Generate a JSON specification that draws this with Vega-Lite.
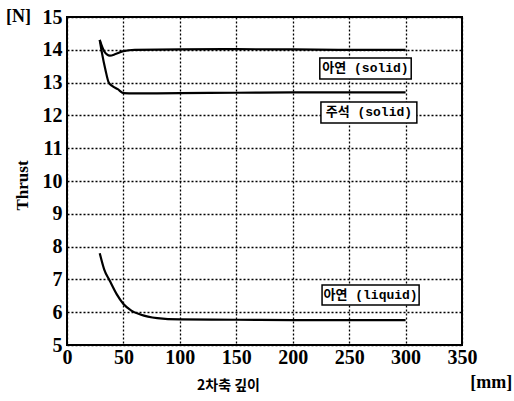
{
  "$schema": "https://vega.github.io/schema/vega-lite/v6.json",
  "width": 395,
  "height": 328,
  "autosize": "none",
  "padding": {"left": 67, "top": 17, "right": 52, "bottom": 56},
  "background": "white",
  "config": {
    "view": {"stroke": "black", "strokeWidth": 2},
    "axis": {
      "labelColor": "black",
      "titleColor": "black",
      "gridColor": "black",
      "gridDash": [2, 2],
      "gridWidth": 1.3,
      "gridOpacity": 1,
      "domain": false,
      "ticks": false,
      "labelFont": "Liberation Serif",
      "labelFontWeight": "bold",
      "labelFontSize": 20,
      "labelOverlap": false,
      "labelFlush": false
    }
  },
  "datasets": {
    "curves": [
      {"series": "zinc_solid", "x": 29, "y": 14.3},
      {"series": "zinc_solid", "x": 33, "y": 13.95},
      {"series": "zinc_solid", "x": 38, "y": 13.82},
      {"series": "zinc_solid", "x": 43, "y": 13.87},
      {"series": "zinc_solid", "x": 50, "y": 13.96},
      {"series": "zinc_solid", "x": 60, "y": 14.0},
      {"series": "zinc_solid", "x": 100, "y": 14.01},
      {"series": "zinc_solid", "x": 150, "y": 14.02},
      {"series": "zinc_solid", "x": 200, "y": 14.01},
      {"series": "zinc_solid", "x": 250, "y": 14.0},
      {"series": "zinc_solid", "x": 300, "y": 14.0},
      {"series": "tin_solid", "x": 29, "y": 14.3},
      {"series": "tin_solid", "x": 31, "y": 13.9},
      {"series": "tin_solid", "x": 34, "y": 13.4},
      {"series": "tin_solid", "x": 37, "y": 13.0},
      {"series": "tin_solid", "x": 40, "y": 12.9},
      {"series": "tin_solid", "x": 45, "y": 12.8},
      {"series": "tin_solid", "x": 50, "y": 12.68},
      {"series": "tin_solid", "x": 60, "y": 12.67},
      {"series": "tin_solid", "x": 100, "y": 12.68},
      {"series": "tin_solid", "x": 150, "y": 12.69},
      {"series": "tin_solid", "x": 200, "y": 12.7},
      {"series": "tin_solid", "x": 250, "y": 12.7},
      {"series": "tin_solid", "x": 300, "y": 12.7},
      {"series": "zinc_liquid", "x": 29, "y": 7.8},
      {"series": "zinc_liquid", "x": 33, "y": 7.3},
      {"series": "zinc_liquid", "x": 38, "y": 6.95},
      {"series": "zinc_liquid", "x": 44, "y": 6.55},
      {"series": "zinc_liquid", "x": 50, "y": 6.25},
      {"series": "zinc_liquid", "x": 57, "y": 6.05},
      {"series": "zinc_liquid", "x": 65, "y": 5.93},
      {"series": "zinc_liquid", "x": 80, "y": 5.82},
      {"series": "zinc_liquid", "x": 100, "y": 5.78},
      {"series": "zinc_liquid", "x": 150, "y": 5.77},
      {"series": "zinc_liquid", "x": 200, "y": 5.76},
      {"series": "zinc_liquid", "x": 250, "y": 5.76},
      {"series": "zinc_liquid", "x": 300, "y": 5.76}
    ],
    "boxes": [
      {"x": 224, "x2": 305, "y": 13.11, "y2": 13.75},
      {"x": 225, "x2": 310, "y": 11.77, "y2": 12.41},
      {"x": 226, "x2": 312, "y": 6.22, "y2": 6.83}
    ],
    "labels": [
      {"text": "아연 (solid)", "x": 264.5, "y": 13.43},
      {"text": "주석 (solid)", "x": 267.5, "y": 12.09},
      {"text": "아연 (liquid)", "x": 269, "y": 6.52}
    ],
    "units": [
      {"text": "[N]", "x": -43, "y": 15.0},
      {"text": "[mm]", "x": 376, "y": 3.85}
    ]
  },
  "encoding": {
    "x": {
      "field": "x", "type": "quantitative",
      "scale": {"domain": [0, 350], "nice": false},
      "axis": {
        "values": [0, 50, 100, 150, 200, 250, 300, 350],
        "labelFont": "Liberation Serif",
        "labelFontWeight": "bold",
        "labelFontSize": 20,
        "title": "2차축 깊이",
        "titleFont": "Noto Sans CJK KR",
        "titleFontWeight": "bold",
        "titleFontSize": 14,
        "titleX": 161,
        "titleY": 33,
        "labelPadding": 2
      }
    },
    "y": {
      "field": "y", "type": "quantitative",
      "scale": {"domain": [5, 15], "nice": false},
      "axis": {
        "values": [5, 6, 7, 8, 9, 10, 11, 12, 13, 14, 15],
        "labelFont": "Liberation Serif",
        "labelFontWeight": "bold",
        "labelFontSize": 20,
        "title": "Thrust",
        "titleFont": "Liberation Serif",
        "titleFontWeight": "bold",
        "titleFontSize": 17,
        "titleX": -36,
        "titleY": 168,
        "labelPadding": 5
      }
    }
  },
  "layer": [
    {
      "data": {"name": "curves"},
      "mark": {"type": "line", "color": "black", "strokeWidth": 2.2, "interpolate": "monotone"},
      "encoding": {
        "detail": {"field": "series"}
      }
    },
    {
      "data": {"name": "boxes"},
      "mark": {"type": "rect", "fill": "white", "stroke": "black", "strokeWidth": 1.5},
      "encoding": {
        "x2": {"field": "x2"},
        "y2": {"field": "y2"}
      }
    },
    {
      "data": {"name": "labels"},
      "mark": {"type": "text", "font": "Liberation Mono, Noto Sans CJK KR", "fontSize": 13, "fontWeight": "bold", "color": "black"},
      "encoding": {
        "text": {"field": "text"}
      }
    },
    {
      "data": {"name": "units"},
      "mark": {"type": "text", "font": "Liberation Serif", "fontSize": 18, "fontWeight": "bold", "color": "black", "clip": false},
      "encoding": {
        "text": {"field": "text"}
      }
    }
  ]
}
